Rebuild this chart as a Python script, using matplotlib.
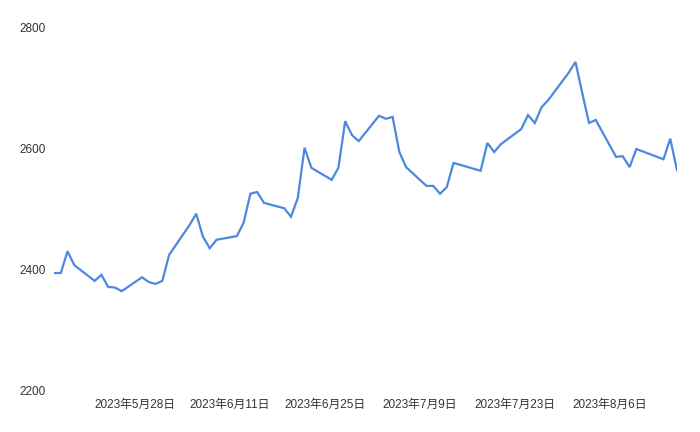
import matplotlib
matplotlib.use("Agg")
import matplotlib.pyplot as plt
import matplotlib.dates as mdates
import pandas as pd

# trading days (Tokyo calendar) and closing values
dates = pd.to_datetime([
    "2023-05-16", "2023-05-17", "2023-05-18", "2023-05-19",
    "2023-05-22", "2023-05-23", "2023-05-24", "2023-05-25", "2023-05-26",
    "2023-05-29", "2023-05-30", "2023-05-31", "2023-06-01", "2023-06-02",
    "2023-06-05", "2023-06-06", "2023-06-07", "2023-06-08", "2023-06-09",
    "2023-06-12", "2023-06-13", "2023-06-14", "2023-06-15", "2023-06-16",
    "2023-06-19", "2023-06-20", "2023-06-21", "2023-06-22", "2023-06-23",
    "2023-06-26", "2023-06-27", "2023-06-28", "2023-06-29", "2023-06-30",
    "2023-07-03", "2023-07-04", "2023-07-05", "2023-07-06", "2023-07-07",
    "2023-07-10", "2023-07-11", "2023-07-12", "2023-07-13", "2023-07-14",
    "2023-07-18", "2023-07-19", "2023-07-20", "2023-07-21",
    "2023-07-24", "2023-07-25", "2023-07-26", "2023-07-27", "2023-07-28",
    "2023-07-31", "2023-08-01", "2023-08-02", "2023-08-03", "2023-08-04",
    "2023-08-07", "2023-08-08", "2023-08-09", "2023-08-10",
    "2023-08-14", "2023-08-15", "2023-08-16",
])
values = [
    2395, 2395, 2431, 2408,
    2382, 2392, 2372, 2371, 2365,
    2388, 2380, 2377, 2382, 2425,
    2474, 2493, 2455, 2436, 2450,
    2456, 2478, 2526, 2529, 2511,
    2502, 2488, 2519, 2602, 2569,
    2549, 2569, 2646, 2623, 2613,
    2655, 2650, 2653, 2595, 2570,
    2539, 2539, 2526, 2537, 2577,
    2564, 2610, 2595, 2608,
    2633, 2656, 2643, 2669, 2681,
    2726, 2744, 2693, 2643, 2648,
    2587, 2588, 2570, 2600,
    2583, 2617, 2565,
]

x_ticks = pd.to_datetime(["2023-05-28", "2023-06-11", "2023-06-25",
                          "2023-07-09", "2023-07-23", "2023-08-06"])
x_labels = [f"{d.year}年{d.month}月{d.day}日" for d in x_ticks]
y_ticks = [2200, 2400, 2600, 2800]

fonts = ["Liberation Sans", "Noto Sans CJK JP", "DejaVu Sans"]
plt.rcParams["font.family"] = fonts

fig = plt.figure(figsize=(7.0, 4.32), dpi=100)
ax = fig.add_axes([54 / 700, 41 / 432, 623 / 700, 363 / 432])

ax.plot(dates, values, color="#4d88e0", lw=1.6, solid_joinstyle="miter")

ax.set_xlim(dates[0], dates[-1])
ax.set_ylim(2200, 2800)
ax.set_xticks(x_ticks)
ax.set_xticklabels(x_labels)
ax.set_yticks(y_ticks)
ax.set_yticklabels([str(v) for v in y_ticks])
ax.tick_params(axis="both", length=0, labelsize=8.5, labelcolor="#333333")
ax.tick_params(axis="x", pad=6)
ax.tick_params(axis="y", pad=6)
for s in ax.spines.values():
    s.set_visible(False)

fig.savefig("out.png", dpi=100)
